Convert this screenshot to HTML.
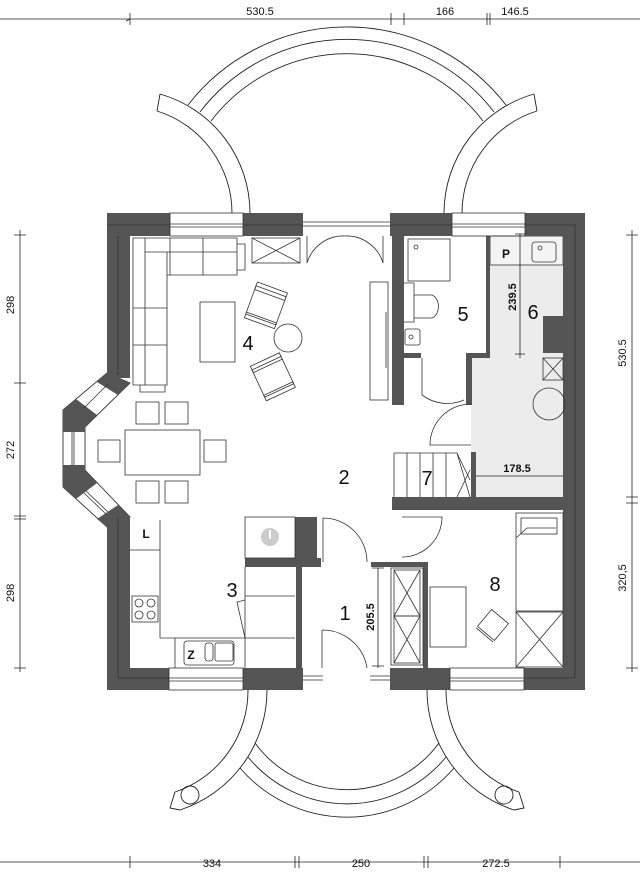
<!DOCTYPE html>
<html><head><meta charset="utf-8"><style>
html,body{margin:0;padding:0;background:#fff;}
svg{display:block;}
text{font-family:"Liberation Sans",Arial,sans-serif;fill:#111;}
</style></head><body>
<svg width="640" height="880" viewBox="0 0 640 880" xmlns="http://www.w3.org/2000/svg">
<g fill="none" stroke="#222" stroke-width="0.9">
<path d="M188,105 A201,201 0 0 1 506,105"/>
<path d="M200,112 A185,185 0 0 1 494,112"/>
<path d="M211,121 A171,171 0 0 1 483,121"/>
<path d="M160,94 A124,124 0 0 1 250,213"/>
<path d="M157,111 A107,107 0 0 1 232,213"/>
<path d="M160,94 L157,111"/>
<path d="M534,94 A124,124 0 0 0 444,213"/>
<path d="M537,111 A107,107 0 0 0 462,213"/>
<path d="M534,94 L537,111"/>
<path d="M240,768 A141,141 0 0 0 454,768"/>
<path d="M248,757 A128,128 0 0 0 446,757"/>
<path d="M255,743 A114,114 0 0 0 439,743"/>
<path d="M267,690 A126,126 0 0 1 180,810"/>
<path d="M248,690 A107,107 0 0 1 175,792"/>
<path d="M175,792 L170,808 L180,810"/>
<path d="M427,690 A126,126 0 0 0 514,810"/>
<path d="M446,690 A107,107 0 0 0 519,792"/>
<path d="M519,792 L524,808 L514,810"/>
<circle cx="190" cy="795" r="9"/>
<circle cx="504" cy="795" r="9"/>
</g>
<path d="M490,236 H563 V497 H471 V357 H490 Z" fill="#ececec"/>
<rect x="490" y="236" width="73" height="29" fill="#f4f4f4" stroke="#333" stroke-width="0.8"/>
<!-- bay band outline -->
<path d="M107,373 L63,410 L63,487 L107,527 L130,517 L85,470 L85,427 L130,383 Z" fill="#fff" stroke="#333" stroke-width="0.9"/>
<g fill="#555">
<rect x="107" y="213" width="63" height="23"/>
<rect x="243" y="213" width="60" height="23"/>
<rect x="390" y="213" width="62" height="23"/>
<rect x="525" y="213" width="60" height="23"/>
<rect x="563" y="213" width="22" height="477"/>
<rect x="107" y="213" width="23" height="165"/>
<rect x="107" y="517" width="23" height="173"/>
<rect x="107" y="668" width="62" height="22"/>
<rect x="243" y="668" width="60" height="22"/>
<rect x="390" y="668" width="60" height="22"/>
<rect x="524" y="668" width="61" height="22"/>
<path d="M107,373 L130,383 L118,395 L97,382 Z"/>
<path d="M76,399 L63,410 L63,432 L85,432 L85,427 L97,415 Z"/>
<path d="M63,465 L63,487 L76,499 L97,483 L85,470 L85,465 Z"/>
<path d="M97,519 L107,527 L130,517 L118,505 Z"/>
<rect x="392" y="236" width="12" height="169"/>
<rect x="486" y="236" width="4" height="121"/>
<rect x="404" y="353" width="17" height="5"/>
<rect x="466" y="353" width="24" height="5"/>
<rect x="466" y="353" width="6" height="52"/>
<rect x="471" y="452" width="5" height="45"/>
<rect x="392" y="497" width="171" height="13"/>
<rect x="295" y="517" width="22" height="46"/>
<rect x="245" y="558" width="76" height="9"/>
<rect x="296" y="567" width="6" height="101"/>
<rect x="371" y="562" width="57" height="5"/>
<rect x="423" y="562" width="5" height="106"/>
</g>
<g fill="none" stroke="#333" stroke-width="0.8">
<path d="M118,236 V375 M118,517 V678 H169 M525,678 H575 V225 H525 M107,225 H170 M243,225 H303 M390,225 H452"/>
<path d="M108,384 L86,406 M74,432 V465 M86,491 L108,512 M106,386 L84,408 M72,432 V465 M84,493 L106,514"/>
<rect x="170" y="213" width="73" height="23"/>
<rect x="452" y="213" width="73" height="23"/>
<path d="M170,224 H243 M170,227 H243 M452,224 H525 M452,227 H525 M303,222 H390 M303,226 H390"/>
<rect x="169" y="668" width="74" height="22"/>
<rect x="450" y="668" width="74" height="22"/>
<path d="M169,678 H243 M169,681 H243 M450,678 H524 M450,681 H524 M303,676 H323 M370,676 H390 M303,680 H323 M370,680 H390"/>
<path d="M307,236 V263 A38,38 0 0 1 345,236 M383,236 V263 A38,38 0 0 0 345,236"/>
<path d="M133,238 H237 V275 H167 V385 H133 Z"/>
<path d="M145,238 V385 M145,252 H237 M167,275 V252 M170,238 V275 M203,238 V275 M133,308 H167 M133,345 H167 M237,244 H245 V270 H237 M140,385 V392 H165 V385"/>
<rect x="252" y="238" width="48" height="25"/><path d="M252,238 L300,263 M300,238 L252,263"/>
<rect x="200" y="302" width="35" height="60"/>
<g transform="rotate(20 265 305)"><rect x="250" y="290" width="32" height="30"/><rect x="250" y="286" width="32" height="8"/><rect x="250" y="318" width="32" height="6"/></g>
<g transform="rotate(-25 272 375)"><rect x="256" y="362" width="32" height="30"/><rect x="256" y="358" width="32" height="7"/><rect x="256" y="390" width="32" height="6"/></g>
<circle cx="288" cy="338" r="14"/>
<rect x="370" y="282" width="18" height="118"/><path d="M386,312 V368"/>
<rect x="125" y="430" width="75" height="45"/>
<rect x="136" y="402" width="23" height="22"/><rect x="165" y="402" width="23" height="22"/>
<rect x="136" y="481" width="23" height="22"/><rect x="165" y="481" width="23" height="22"/>
<rect x="98" y="440" width="22" height="22"/><rect x="204" y="440" width="22" height="22"/>
<path d="M130,550 H160 V638 M160,520 V550 M160,638 H175 V668 M175,638 H245 M245,567 V668 M245,596 H295 M245,638 H295"/>
<path d="M245,600 L237,602 L245,638"/>
<rect x="245" y="517" width="50" height="41"/>
<rect x="132" y="596" width="26" height="26"/>
<circle cx="139" cy="603" r="4"/><circle cx="151" cy="603" r="4"/><circle cx="139" cy="615" r="4"/><circle cx="151" cy="615" r="4"/>
<rect x="184" y="641" width="50" height="24" rx="3"/>
<rect x="205" y="643" width="8" height="18" rx="3"/><rect x="215" y="643" width="18" height="18" rx="2"/>
<path d="M323,518 V562 M323,518 A44,44 0 0 1 367,562"/>
<path d="M322,630 V668 M322,630 A45,45 0 0 1 367,668"/>
<path d="M402,517 H442 A40,40 0 0 1 402,557"/>
<path d="M471,404 A41,41 0 0 0 430,445 H471"/>
<path d="M422,358 V395 A42,42 0 0 0 464,400"/>
<rect x="408" y="239" width="42" height="42"/><circle cx="416" cy="247" r="2"/>
<path d="M404,283 H414 V322 H404"/><path d="M414,295 H432 A9,12 0 0 1 432,318 H414"/>
<rect x="405" y="329" width="15" height="16" rx="2"/><circle cx="411" cy="337" r="2"/>
<rect x="532" y="242" width="24" height="20" rx="3"/><circle cx="540" cy="248" r="2"/>
<rect x="543" y="358" width="20" height="22"/><path d="M543,358 L563,380 M563,358 L543,380"/>
<circle cx="549" cy="404" r="16"/>
<path d="M394,453 H457 L470,497 M394,453 V497 M407,453 V497 M420,453 V497 M433,453 V497 M446,453 V497 M457,453 L470,480 M457,497 L470,470"/>
<rect x="516" y="513" width="47" height="98"/><rect x="521" y="518" width="36" height="16"/>
<path d="M516,538 L527,528 H556"/>
<rect x="516" y="612" width="47" height="55"/><path d="M516,612 L563,667 M563,612 L516,667"/>
<rect x="430" y="587" width="36" height="60"/>
<g transform="rotate(40 493 625)"><rect x="482" y="614" width="22" height="22"/><path d="M482,638 H504"/></g>
<rect x="391" y="568" width="32" height="97"/><rect x="394" y="570" width="26" height="46"/><rect x="394" y="616" width="26" height="47"/>
<path d="M394,570 L420,616 M420,570 L394,616 M394,616 L420,663 M420,616 L394,663"/>
</g>
<circle cx="270" cy="537" r="9" fill="#ccc"/><rect x="269" y="530" width="2" height="9" fill="#fff"/>
<rect x="543" y="316" width="20" height="37" fill="#555"/>
<g stroke="#222" stroke-width="0.8" fill="none">
<path d="M0,19 H640 M130,13 V25 M391,13 V25 M404,13 V25 M487,13 V25 M490,13 V25 M130,19 L126,21"/>
<path d="M0,862 H640 M130,856 V868 M295,856 V868 M299,856 V868 M424,856 V868 M428,856 V868 M560,856 V868"/>
<path d="M20,230 V672 M14,235 H26 M14,383 H26 M14,516 H26 M14,519 H26 M14,668 H26"/>
<path d="M632,230 V672 M626,235 H638 M626,497 H638 M626,503 H638 M626,668 H638"/>
<path d="M520,234 V358 M515,234 H525 M515,354 H525"/>
<path d="M476,476 H563"/>
<path d="M378,568 V668 M372,568 H384 M372,666 H384"/>
</g>
<g font-size="11" text-anchor="middle">
<text x="260" y="15">530.5</text><text x="445" y="15">166</text><text x="515" y="15">146.5</text>
<text x="212" y="867">334</text><text x="361" y="867">250</text><text x="496" y="867">272.5</text>
<text transform="translate(14,305) rotate(-90)">298</text>
<text transform="translate(14,450) rotate(-90)">272</text>
<text transform="translate(14,593) rotate(-90)">298</text>
<text transform="translate(626,353) rotate(-90)">530.5</text>
<text transform="translate(626,578) rotate(-90)">320,5</text>
<text transform="translate(516,297) rotate(-90)" font-weight="bold">239.5</text>
<text x="517" y="472" font-weight="bold">178.5</text>
<text transform="translate(374,617) rotate(-90)" font-weight="bold">205.5</text>
<text x="506" y="258" font-weight="bold" font-size="12">P</text>
<text x="146" y="538" font-weight="bold" font-size="12">L</text>
<text x="191" y="659" font-weight="bold" font-size="12">Z</text>
</g>
<g font-size="20" text-anchor="middle">
<text x="345" y="620">1</text><text x="344" y="484">2</text><text x="232" y="597">3</text>
<text x="248" y="350">4</text><text x="463" y="321">5</text><text x="533" y="319">6</text>
<text x="427" y="485">7</text><text x="495" y="591">8</text>
</g>
</svg>
</body></html>
